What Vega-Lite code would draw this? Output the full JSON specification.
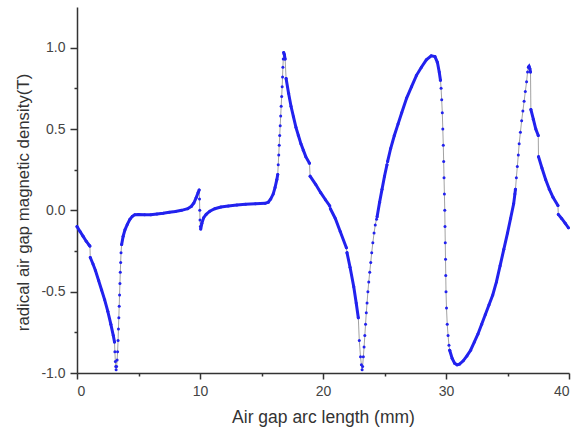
{
  "$schema": "https://vega.github.io/schema/vega-lite/v6.json",
  "width": 492,
  "height": 366,
  "autosize": {"type": "none"},
  "padding": {"left": 77, "top": 7, "right": 11, "bottom": 61},
  "background": "white",
  "config": {
    "view": {"stroke": null},
    "axis": {
      "domainColor": "#333333",
      "domainWidth": 1.5,
      "tickColor": "#333333",
      "tickWidth": 1.5,
      "grid": false,
      "labelColor": "#444444",
      "labelFont": "Liberation Sans",
      "labelFontSize": 14,
      "titleFont": "Liberation Sans",
      "titleFontSize": 17.5,
      "titleFontWeight": "normal",
      "titleColor": "#333333"
    }
  },
  "data": {
    "values": [
      {"x": 0.0, "y": -0.10, "s": 1}, {"x": 0.25, "y": -0.13, "s": 1}, {"x": 0.5, "y": -0.16, "s": 1}, {"x": 0.75, "y": -0.19, "s": 1}, {"x": 1.0, "y": -0.215, "s": 1}, {"x": 1.05, "y": -0.22, "s": 1},
      {"x": 1.08, "y": -0.29, "s": 2}, {"x": 1.3, "y": -0.33, "s": 2}, {"x": 1.5, "y": -0.37, "s": 2}, {"x": 1.75, "y": -0.43, "s": 2}, {"x": 2.0, "y": -0.49, "s": 2}, {"x": 2.25, "y": -0.55, "s": 2}, {"x": 2.5, "y": -0.62, "s": 2}, {"x": 2.75, "y": -0.70, "s": 2}, {"x": 2.95, "y": -0.77, "s": 2}, {"x": 3.05, "y": -0.81, "s": 2},
      {"x": 3.08, "y": -0.87, "s": 0}, {"x": 3.12, "y": -0.93, "s": 0}, {"x": 3.15, "y": -0.96, "s": 0}, {"x": 3.18, "y": -0.98, "s": 0}, {"x": 3.22, "y": -0.96, "s": 0}, {"x": 3.26, "y": -0.92, "s": 0}, {"x": 3.3, "y": -0.87, "s": 0}, {"x": 3.34, "y": -0.80, "s": 0}, {"x": 3.37, "y": -0.73, "s": 0}, {"x": 3.4, "y": -0.66, "s": 0}, {"x": 3.43, "y": -0.59, "s": 0}, {"x": 3.46, "y": -0.52, "s": 0}, {"x": 3.49, "y": -0.45, "s": 0}, {"x": 3.52, "y": -0.38, "s": 0}, {"x": 3.55, "y": -0.32, "s": 0}, {"x": 3.58, "y": -0.26, "s": 0},
      {"x": 3.63, "y": -0.21, "s": 3}, {"x": 3.75, "y": -0.16, "s": 3}, {"x": 3.9, "y": -0.12, "s": 3}, {"x": 4.1, "y": -0.085, "s": 3}, {"x": 4.3, "y": -0.055, "s": 3}, {"x": 4.5, "y": -0.037, "s": 3}, {"x": 4.7, "y": -0.027, "s": 3}, {"x": 5.0, "y": -0.025, "s": 3}, {"x": 5.5, "y": -0.027, "s": 3}, {"x": 6.0, "y": -0.027, "s": 3}, {"x": 6.5, "y": -0.022, "s": 3}, {"x": 7.0, "y": -0.018, "s": 3}, {"x": 7.5, "y": -0.012, "s": 3}, {"x": 8.0, "y": -0.007, "s": 3}, {"x": 8.5, "y": 0.0, "s": 3}, {"x": 9.0, "y": 0.01, "s": 3}, {"x": 9.3, "y": 0.025, "s": 3}, {"x": 9.5, "y": 0.045, "s": 3}, {"x": 9.7, "y": 0.08, "s": 3}, {"x": 9.85, "y": 0.11, "s": 3}, {"x": 9.93, "y": 0.125, "s": 3},
      {"x": 9.96, "y": 0.07, "s": 0}, {"x": 9.98, "y": 0.0, "s": 0}, {"x": 10.0, "y": -0.06, "s": 0}, {"x": 10.03, "y": -0.1, "s": 0},
      {"x": 10.06, "y": -0.115, "s": 4}, {"x": 10.15, "y": -0.08, "s": 4}, {"x": 10.3, "y": -0.045, "s": 4}, {"x": 10.5, "y": -0.025, "s": 4}, {"x": 10.8, "y": -0.005, "s": 4}, {"x": 11.2, "y": 0.01, "s": 4}, {"x": 11.7, "y": 0.02, "s": 4}, {"x": 12.3, "y": 0.027, "s": 4}, {"x": 13.0, "y": 0.033, "s": 4}, {"x": 13.7, "y": 0.037, "s": 4}, {"x": 14.5, "y": 0.04, "s": 4}, {"x": 15.3, "y": 0.043, "s": 4}, {"x": 15.55, "y": 0.05, "s": 4}, {"x": 15.75, "y": 0.07, "s": 4}, {"x": 15.95, "y": 0.1, "s": 4}, {"x": 16.1, "y": 0.14, "s": 4}, {"x": 16.25, "y": 0.19, "s": 4}, {"x": 16.32, "y": 0.22, "s": 4},
      {"x": 16.36, "y": 0.28, "s": 0}, {"x": 16.4, "y": 0.34, "s": 0}, {"x": 16.44, "y": 0.40, "s": 0}, {"x": 16.48, "y": 0.46, "s": 0}, {"x": 16.52, "y": 0.52, "s": 0}, {"x": 16.56, "y": 0.58, "s": 0}, {"x": 16.6, "y": 0.64, "s": 0}, {"x": 16.64, "y": 0.70, "s": 0}, {"x": 16.68, "y": 0.76, "s": 0}, {"x": 16.71, "y": 0.82, "s": 0}, {"x": 16.74, "y": 0.88, "s": 0}, {"x": 16.77, "y": 0.93, "s": 0},
      {"x": 16.8, "y": 0.97, "s": 5}, {"x": 16.85, "y": 0.96, "s": 5}, {"x": 16.92, "y": 0.93, "s": 5},
      {"x": 17.0, "y": 0.81, "s": 6}, {"x": 17.2, "y": 0.72, "s": 6}, {"x": 17.4, "y": 0.64, "s": 6}, {"x": 17.6, "y": 0.575, "s": 6}, {"x": 17.8, "y": 0.51, "s": 6}, {"x": 18.0, "y": 0.46, "s": 6}, {"x": 18.2, "y": 0.41, "s": 6}, {"x": 18.4, "y": 0.37, "s": 6}, {"x": 18.6, "y": 0.33, "s": 6}, {"x": 18.9, "y": 0.29, "s": 6},
      {"x": 18.95, "y": 0.21, "s": 7}, {"x": 19.4, "y": 0.16, "s": 7}, {"x": 19.8, "y": 0.11, "s": 7}, {"x": 20.2, "y": 0.065, "s": 7}, {"x": 20.55, "y": 0.027, "s": 7},
      {"x": 20.6, "y": 0.01, "s": 8}, {"x": 21.0, "y": -0.05, "s": 8}, {"x": 21.4, "y": -0.13, "s": 8}, {"x": 21.9, "y": -0.23, "s": 8},
      {"x": 21.95, "y": -0.26, "s": 9}, {"x": 22.2, "y": -0.35, "s": 9}, {"x": 22.5, "y": -0.47, "s": 9}, {"x": 22.7, "y": -0.57, "s": 9}, {"x": 22.87, "y": -0.66, "s": 9},
      {"x": 22.95, "y": -0.80, "s": 0}, {"x": 23.05, "y": -0.90, "s": 0}, {"x": 23.12, "y": -0.95, "s": 0}, {"x": 23.18, "y": -0.98, "s": 0}, {"x": 23.22, "y": -0.96, "s": 0}, {"x": 23.28, "y": -0.90, "s": 0}, {"x": 23.34, "y": -0.84, "s": 0}, {"x": 23.4, "y": -0.77, "s": 0}, {"x": 23.46, "y": -0.70, "s": 0}, {"x": 23.52, "y": -0.63, "s": 0}, {"x": 23.58, "y": -0.57, "s": 0}, {"x": 23.65, "y": -0.50, "s": 0}, {"x": 23.72, "y": -0.44, "s": 0}, {"x": 23.8, "y": -0.38, "s": 0}, {"x": 23.88, "y": -0.32, "s": 0}, {"x": 23.96, "y": -0.26, "s": 0}, {"x": 24.05, "y": -0.20, "s": 0}, {"x": 24.15, "y": -0.14, "s": 0}, {"x": 24.25, "y": -0.09, "s": 0}, {"x": 24.35, "y": -0.055, "s": 0},
      {"x": 24.4, "y": -0.04, "s": 10}, {"x": 24.6, "y": 0.05, "s": 10}, {"x": 24.8, "y": 0.13, "s": 10}, {"x": 25.0, "y": 0.21, "s": 10}, {"x": 25.2, "y": 0.28, "s": 10},
      {"x": 25.25, "y": 0.30, "s": 11}, {"x": 25.5, "y": 0.38, "s": 11}, {"x": 25.8, "y": 0.46, "s": 11}, {"x": 26.1, "y": 0.53, "s": 11}, {"x": 26.4, "y": 0.60, "s": 11}, {"x": 26.8, "y": 0.69, "s": 11}, {"x": 27.2, "y": 0.76, "s": 11}, {"x": 27.6, "y": 0.83, "s": 11}, {"x": 28.0, "y": 0.88, "s": 11}, {"x": 28.4, "y": 0.925, "s": 11}, {"x": 28.8, "y": 0.95, "s": 11}, {"x": 29.1, "y": 0.945, "s": 11}, {"x": 29.3, "y": 0.91, "s": 11}, {"x": 29.45, "y": 0.85, "s": 11}, {"x": 29.55, "y": 0.80, "s": 11},
      {"x": 29.6, "y": 0.75, "s": 0}, {"x": 29.65, "y": 0.68, "s": 0}, {"x": 29.7, "y": 0.60, "s": 0}, {"x": 29.74, "y": 0.50, "s": 0}, {"x": 29.78, "y": 0.40, "s": 0}, {"x": 29.81, "y": 0.30, "s": 0}, {"x": 29.84, "y": 0.20, "s": 0}, {"x": 29.87, "y": 0.10, "s": 0}, {"x": 29.9, "y": 0.0, "s": 0}, {"x": 29.92, "y": -0.10, "s": 0}, {"x": 29.94, "y": -0.20, "s": 0}, {"x": 29.96, "y": -0.30, "s": 0}, {"x": 29.98, "y": -0.40, "s": 0}, {"x": 30.0, "y": -0.50, "s": 0}, {"x": 30.04, "y": -0.60, "s": 0}, {"x": 30.1, "y": -0.70, "s": 0}, {"x": 30.17, "y": -0.77, "s": 0}, {"x": 30.24, "y": -0.83, "s": 0},
      {"x": 30.3, "y": -0.86, "s": 12}, {"x": 30.5, "y": -0.91, "s": 12}, {"x": 30.7, "y": -0.94, "s": 12}, {"x": 30.9, "y": -0.95, "s": 12}, {"x": 31.1, "y": -0.945, "s": 12}, {"x": 31.4, "y": -0.925, "s": 12}, {"x": 31.7, "y": -0.895, "s": 12}, {"x": 32.0, "y": -0.86, "s": 12}, {"x": 32.3, "y": -0.81, "s": 12}, {"x": 32.6, "y": -0.76, "s": 12}, {"x": 32.9, "y": -0.70, "s": 12}, {"x": 33.2, "y": -0.64, "s": 12}, {"x": 33.5, "y": -0.58, "s": 12}, {"x": 33.8, "y": -0.52, "s": 12}, {"x": 34.1, "y": -0.44, "s": 12}, {"x": 34.4, "y": -0.34, "s": 12}, {"x": 34.7, "y": -0.24, "s": 12}, {"x": 35.0, "y": -0.14, "s": 12}, {"x": 35.25, "y": -0.05, "s": 12}, {"x": 35.5, "y": 0.04, "s": 12}, {"x": 35.6, "y": 0.10, "s": 12}, {"x": 35.65, "y": 0.13, "s": 12},
      {"x": 35.72, "y": 0.20, "s": 0}, {"x": 35.8, "y": 0.27, "s": 0}, {"x": 35.88, "y": 0.34, "s": 0}, {"x": 35.95, "y": 0.41, "s": 0}, {"x": 36.05, "y": 0.48, "s": 0}, {"x": 36.15, "y": 0.55, "s": 0}, {"x": 36.25, "y": 0.61, "s": 0}, {"x": 36.35, "y": 0.67, "s": 0}, {"x": 36.45, "y": 0.73, "s": 0}, {"x": 36.55, "y": 0.79, "s": 0}, {"x": 36.63, "y": 0.85, "s": 0},
      {"x": 36.7, "y": 0.88, "s": 13}, {"x": 36.75, "y": 0.885, "s": 13}, {"x": 36.82, "y": 0.87, "s": 13}, {"x": 36.87, "y": 0.85, "s": 13},
      {"x": 36.9, "y": 0.62, "s": 14}, {"x": 37.1, "y": 0.56, "s": 14}, {"x": 37.3, "y": 0.50, "s": 14}, {"x": 37.5, "y": 0.46, "s": 14},
      {"x": 37.52, "y": 0.33, "s": 15}, {"x": 37.8, "y": 0.26, "s": 15}, {"x": 38.1, "y": 0.19, "s": 15}, {"x": 38.4, "y": 0.13, "s": 15}, {"x": 38.7, "y": 0.08, "s": 15}, {"x": 39.1, "y": 0.03, "s": 15},
      {"x": 39.13, "y": -0.025, "s": 16}, {"x": 39.4, "y": -0.05, "s": 16}, {"x": 39.7, "y": -0.08, "s": 16}, {"x": 39.95, "y": -0.107, "s": 16}
    ]
  },
  "encoding": {
    "x": {
      "field": "x", "type": "quantitative",
      "scale": {"domain": [0, 40], "nice": false, "zero": false},
      "axis": {
        "values": [0, 5, 10, 15, 20, 25, 30, 35, 40],
        "tickSize": {"condition": {"test": "datum.value % 10 === 0", "value": 6}, "value": 3},
        "labelExpr": "datum.value % 10 === 0 ? format(datum.value, 'd') : ''",
        "labelPadding": 5,
        "title": "Air gap arc length (mm)",
        "titlePadding": 10
      }
    },
    "y": {
      "field": "y", "type": "quantitative",
      "scale": {"domain": [-1, 1.25], "nice": false, "zero": false},
      "axis": {
        "values": [-1, -0.75, -0.5, -0.25, 0, 0.25, 0.5, 0.75, 1],
        "tickSize": {"condition": {"test": "datum.value % 0.5 === 0", "value": 7}, "value": 3},
        "labelExpr": "datum.value % 0.5 === 0 ? replace(format(datum.value, '.1f'), '\u2212', '-') : ''",
        "labelPadding": 5,
        "title": "radical air gap magnetic density(T)",
        "titleFontSize": 16.8,
        "titleY": 195,
        "titlePadding": 8
      }
    }
  },
  "layer": [
    {
      "mark": {"type": "line", "color": "#8a8a8a", "strokeWidth": 0.8}
    },
    {
      "transform": [{"filter": "datum.s > 0"}],
      "mark": {"type": "line", "color": "#2222ee", "strokeWidth": 3, "strokeCap": "round"},
      "encoding": {"detail": {"field": "s", "type": "nominal"}}
    },
    {
      "mark": {"type": "circle", "color": "#2222ee", "size": 9, "opacity": 1}
    }
  ]
}
